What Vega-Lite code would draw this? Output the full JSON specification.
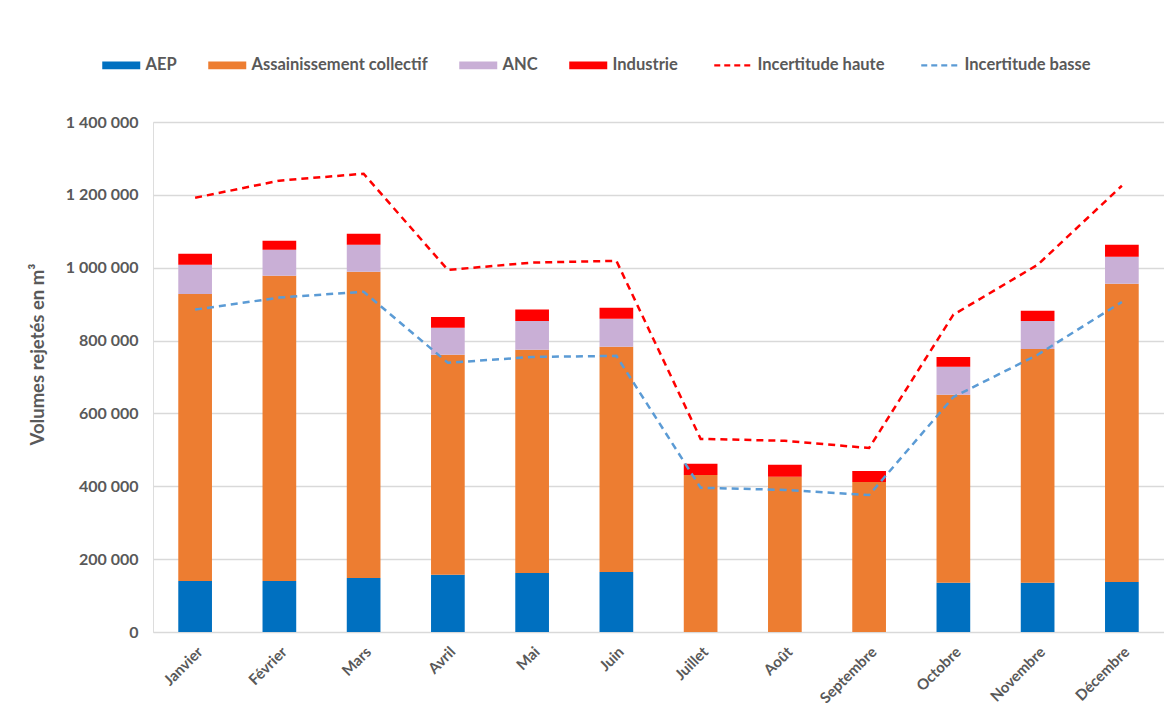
{
  "$schema": "https://vega.github.io/schema/vega-lite/v6.json",
  "width": 1011,
  "height": 510,
  "autosize": {"type": "none"},
  "padding": {"left": 153, "top": 122, "right": 0, "bottom": 78},
  "background": "white",
  "data": {
    "values": [
      {"mois": "Janvier", "serie": "AEP", "volume": 140000},
      {"mois": "Janvier", "serie": "Assainissement collectif", "volume": 788000},
      {"mois": "Janvier", "serie": "ANC", "volume": 80000},
      {"mois": "Janvier", "serie": "Industrie", "volume": 30000},
      {"mois": "Janvier", "serie": "Incertitude haute", "volume": 1192000},
      {"mois": "Janvier", "serie": "Incertitude basse", "volume": 885000},
      {"mois": "Février", "serie": "AEP", "volume": 140000},
      {"mois": "Février", "serie": "Assainissement collectif", "volume": 838000},
      {"mois": "Février", "serie": "ANC", "volume": 71000},
      {"mois": "Février", "serie": "Industrie", "volume": 25000},
      {"mois": "Février", "serie": "Incertitude haute", "volume": 1239000},
      {"mois": "Février", "serie": "Incertitude basse", "volume": 918000},
      {"mois": "Mars", "serie": "AEP", "volume": 148000},
      {"mois": "Mars", "serie": "Assainissement collectif", "volume": 841000},
      {"mois": "Mars", "serie": "ANC", "volume": 74000},
      {"mois": "Mars", "serie": "Industrie", "volume": 30000},
      {"mois": "Mars", "serie": "Incertitude haute", "volume": 1258000},
      {"mois": "Mars", "serie": "Incertitude basse", "volume": 934000},
      {"mois": "Avril", "serie": "AEP", "volume": 157000},
      {"mois": "Avril", "serie": "Assainissement collectif", "volume": 604000},
      {"mois": "Avril", "serie": "ANC", "volume": 74000},
      {"mois": "Avril", "serie": "Industrie", "volume": 30000},
      {"mois": "Avril", "serie": "Incertitude haute", "volume": 994000},
      {"mois": "Avril", "serie": "Incertitude basse", "volume": 739000},
      {"mois": "Mai", "serie": "AEP", "volume": 162000},
      {"mois": "Mai", "serie": "Assainissement collectif", "volume": 613000},
      {"mois": "Mai", "serie": "ANC", "volume": 79000},
      {"mois": "Mai", "serie": "Industrie", "volume": 31000},
      {"mois": "Mai", "serie": "Incertitude haute", "volume": 1014000},
      {"mois": "Mai", "serie": "Incertitude basse", "volume": 755000},
      {"mois": "Juin", "serie": "AEP", "volume": 165000},
      {"mois": "Juin", "serie": "Assainissement collectif", "volume": 618000},
      {"mois": "Juin", "serie": "ANC", "volume": 77000},
      {"mois": "Juin", "serie": "Industrie", "volume": 30000},
      {"mois": "Juin", "serie": "Incertitude haute", "volume": 1019000},
      {"mois": "Juin", "serie": "Incertitude basse", "volume": 758000},
      {"mois": "Juillet", "serie": "AEP", "volume": 0},
      {"mois": "Juillet", "serie": "Assainissement collectif", "volume": 431000},
      {"mois": "Juillet", "serie": "ANC", "volume": 0},
      {"mois": "Juillet", "serie": "Industrie", "volume": 31000},
      {"mois": "Juillet", "serie": "Incertitude haute", "volume": 530000},
      {"mois": "Juillet", "serie": "Incertitude basse", "volume": 396000},
      {"mois": "Août", "serie": "AEP", "volume": 0},
      {"mois": "Août", "serie": "Assainissement collectif", "volume": 426000},
      {"mois": "Août", "serie": "ANC", "volume": 0},
      {"mois": "Août", "serie": "Industrie", "volume": 33000},
      {"mois": "Août", "serie": "Incertitude haute", "volume": 525000},
      {"mois": "Août", "serie": "Incertitude basse", "volume": 390000},
      {"mois": "Septembre", "serie": "AEP", "volume": 0},
      {"mois": "Septembre", "serie": "Assainissement collectif", "volume": 412000},
      {"mois": "Septembre", "serie": "ANC", "volume": 0},
      {"mois": "Septembre", "serie": "Industrie", "volume": 30000},
      {"mois": "Septembre", "serie": "Incertitude haute", "volume": 505000},
      {"mois": "Septembre", "serie": "Incertitude basse", "volume": 376000},
      {"mois": "Octobre", "serie": "AEP", "volume": 135000},
      {"mois": "Octobre", "serie": "Assainissement collectif", "volume": 516000},
      {"mois": "Octobre", "serie": "ANC", "volume": 77000},
      {"mois": "Octobre", "serie": "Industrie", "volume": 27000},
      {"mois": "Octobre", "serie": "Incertitude haute", "volume": 871000},
      {"mois": "Octobre", "serie": "Incertitude basse", "volume": 645000},
      {"mois": "Novembre", "serie": "AEP", "volume": 135000},
      {"mois": "Novembre", "serie": "Assainissement collectif", "volume": 642000},
      {"mois": "Novembre", "serie": "ANC", "volume": 77000},
      {"mois": "Novembre", "serie": "Industrie", "volume": 28000},
      {"mois": "Novembre", "serie": "Incertitude haute", "volume": 1008000},
      {"mois": "Novembre", "serie": "Incertitude basse", "volume": 761000},
      {"mois": "Décembre", "serie": "AEP", "volume": 137000},
      {"mois": "Décembre", "serie": "Assainissement collectif", "volume": 819000},
      {"mois": "Décembre", "serie": "ANC", "volume": 74000},
      {"mois": "Décembre", "serie": "Industrie", "volume": 33000},
      {"mois": "Décembre", "serie": "Incertitude haute", "volume": 1225000},
      {"mois": "Décembre", "serie": "Incertitude basse", "volume": 906000}
    ]
  },
  "encoding": {
    "x": {
      "field": "mois",
      "type": "nominal",
      "sort": ["Janvier", "Février", "Mars", "Avril", "Mai", "Juin", "Juillet", "Août", "Septembre", "Octobre", "Novembre", "Décembre"],
      "scale": {"paddingInner": 0.6, "paddingOuter": 0.3},
      "axis": {
        "title": null,
        "labelAngle": -45,
        "labelFont": "Lato",
        "labelFontSize": 15,
        "labelFontWeight": "bold",
        "labelColor": "#595959",
        "labelPadding": 12,
        "ticks": false,
        "domain": false,
        "grid": false
      }
    },
    "color": {
      "field": "serie",
      "type": "nominal",
      "scale": {
        "domain": ["AEP", "Assainissement collectif", "ANC", "Industrie", "Incertitude haute", "Incertitude basse"],
        "range": ["#0070C0", "#ED7D31", "#C9AFD6", "#FF0000", "#FF0000", "#5B9BD5"]
      },
      "legend": {
        "title": null,
        "orient": "none",
        "legendX": -40,
        "legendY": -65,
        "direction": "horizontal",
        "columns": 6,
        "columnPadding": 31,
        "labelFont": "Lato",
        "labelFontSize": 16.5,
        "labelFontWeight": "bold",
        "labelColor": "#595959",
        "labelLimit": 400,
        "labelOffset": 16,
        "symbolSize": 1444,
        "encode": {
          "symbols": {
            "update": {
              "shape": {"signal": "indexof(['Incertitude haute','Incertitude basse'], datum.value) >= 0 ? 'stroke' : 'M-1,-0.2H1V0.2H-1Z'"},
              "fill": {"signal": "indexof(['Incertitude haute','Incertitude basse'], datum.value) >= 0 ? 'transparent' : scale('color', datum.value)"},
              "stroke": {"signal": "scale('color', datum.value)"},
              "strokeWidth": {"signal": "indexof(['Incertitude haute','Incertitude basse'], datum.value) >= 0 ? 2.4 : 0"},
              "strokeDash": {"signal": "indexof(['Incertitude haute','Incertitude basse'], datum.value) >= 0 ? [6, 4] : [1, 0]"},
              "opacity": {"value": 1}
            }
          }
        }
      }
    }
  },
  "layer": [
    {
      "transform": [
        {"filter": "indexof(['AEP','Assainissement collectif','ANC','Industrie'], datum.serie) >= 0"},
        {"calculate": "indexof(['AEP','Assainissement collectif','ANC','Industrie'], datum.serie)", "as": "rang"}
      ],
      "mark": {"type": "bar", "opacity": 1},
      "encoding": {
        "y": {
          "field": "volume",
          "type": "quantitative",
          "stack": "zero",
          "scale": {"domain": [0, 1400000], "nice": false},
          "axis": {
            "title": "Volumes rejetés en m³",
            "titleFont": "Lato",
            "titleFontSize": 18.5,
            "titleFontWeight": "bold",
            "titleColor": "#595959",
            "titleAngle": -90,
            "titleAlign": "center",
            "titleBaseline": "middle",
            "titleX": -116,
            "titleY": 232,
            "values": [0, 200000, 400000, 600000, 800000, 1000000, 1200000, 1400000],
            "labelExpr": "replace(format(datum.value, ','), regexp(',', 'g'), ' ')",
            "labelFont": "Lato",
            "labelFontSize": 16,
            "labelFontWeight": "bold",
            "labelColor": "#595959",
            "labelPadding": 15,
            "ticks": false,
            "domain": false,
            "grid": true,
            "gridColor": "#D9D9D9",
            "gridWidth": 1.3
          }
        },
        "order": {"field": "rang", "type": "quantitative"}
      }
    },
    {
      "transform": [
        {"filter": "indexof(['Incertitude haute','Incertitude basse'], datum.serie) >= 0"}
      ],
      "mark": {"type": "line", "strokeWidth": 2.5, "strokeDash": [7, 5]},
      "encoding": {
        "y": {"field": "volume", "type": "quantitative"},
        "detail": {"field": "serie"}
      }
    }
  ]
}
